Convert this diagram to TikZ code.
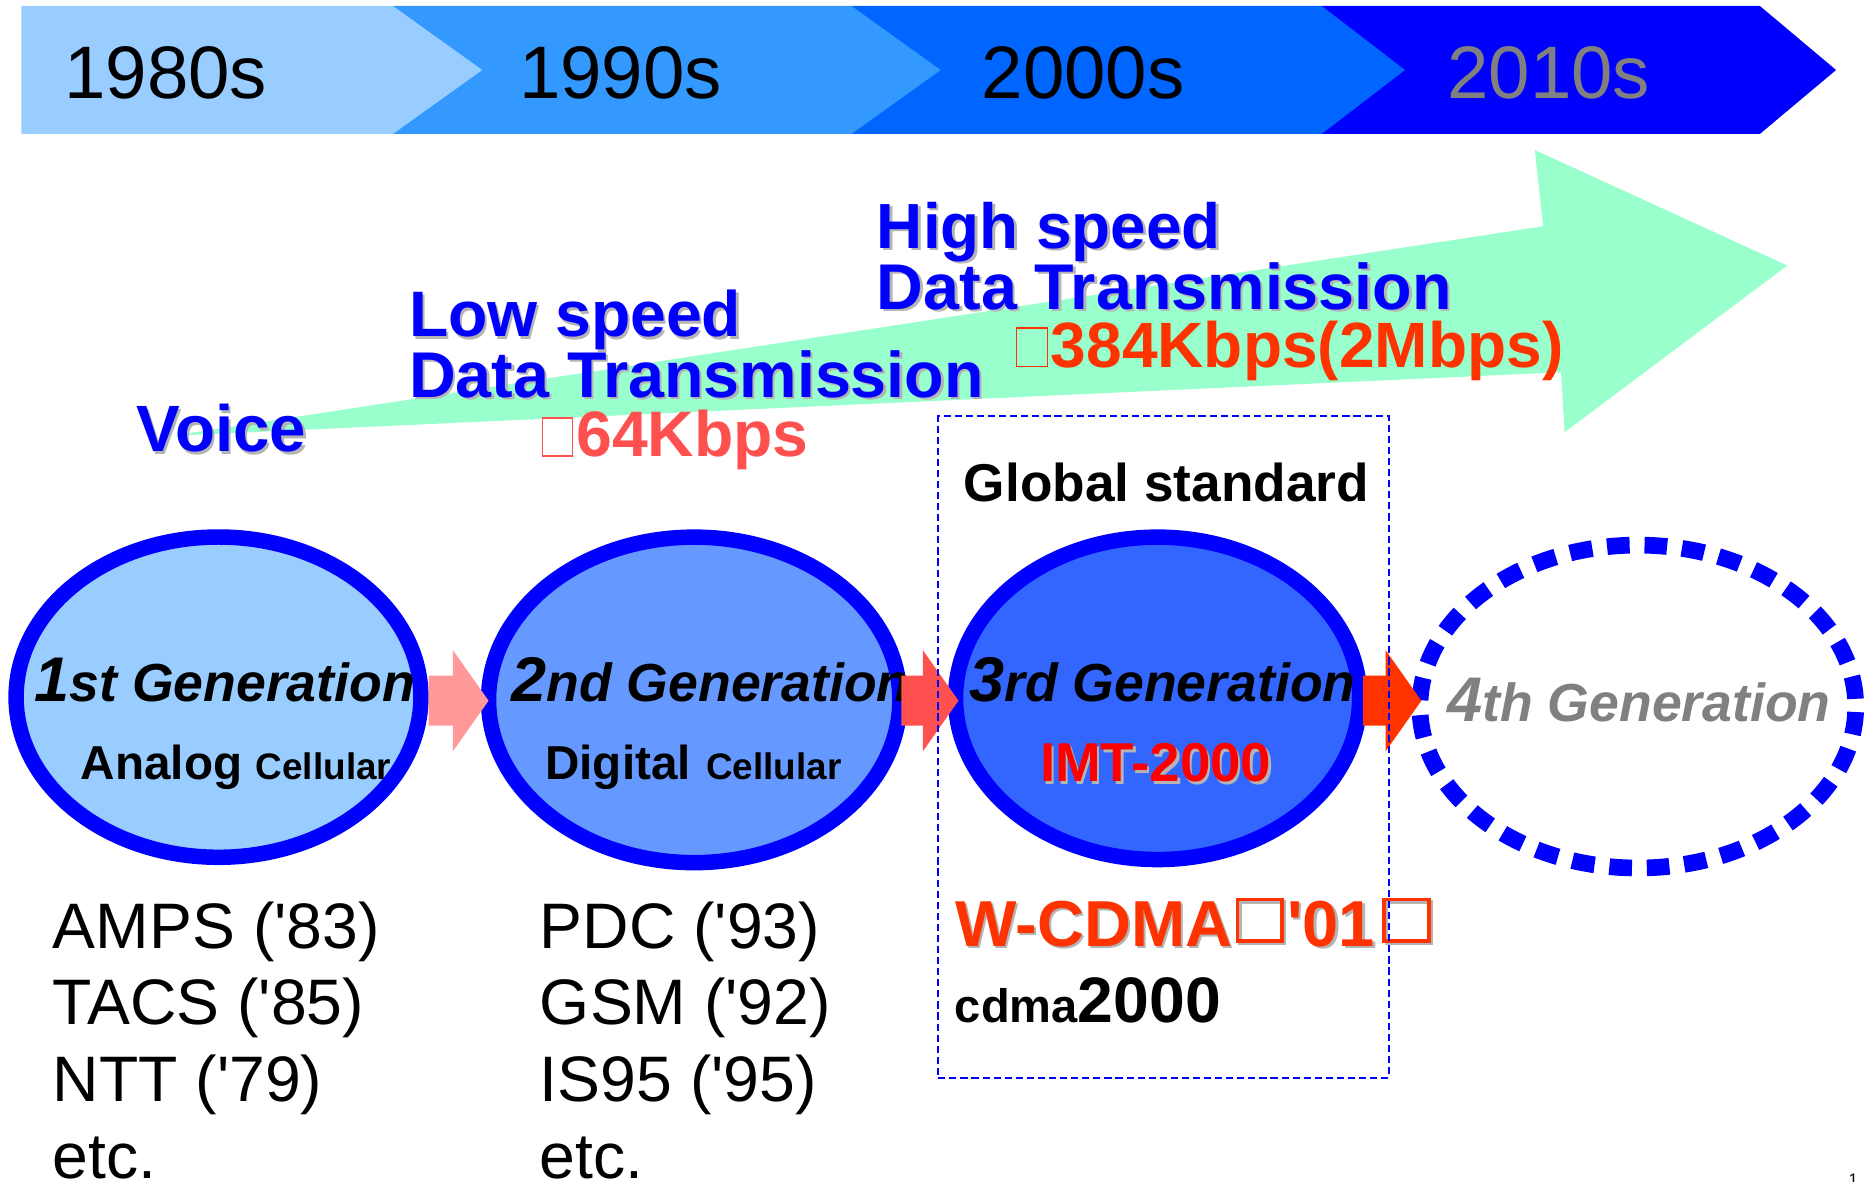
\documentclass[tikz,border=0pt]{standalone}
\usepackage{fontspec}
\setmainfont{Liberation Sans}[Ligatures=TeXOff]
\usetikzlibrary{calc,shapes.geometric}

% palette
\definecolor{decA}{HTML}{99CCFF}
\definecolor{decB}{HTML}{3399FF}
\definecolor{decC}{HTML}{0066FF}
\definecolor{decD}{HTML}{0000FF}
\definecolor{mint}{HTML}{99FFCC}
\definecolor{genA}{HTML}{99CCFF}
\definecolor{genB}{HTML}{6699FF}
\definecolor{genC}{HTML}{3366FF}
\definecolor{rim}{HTML}{0000FF}
\definecolor{stepA}{HTML}{FF9999}
\definecolor{stepB}{HTML}{FF5050}
\definecolor{stepC}{HTML}{FF3300}
\definecolor{shade}{HTML}{B4B4B4}
\definecolor{greytxt}{HTML}{808080}
\definecolor{rate}{HTML}{FF5050}
\definecolor{orng}{HTML}{FF3300}
\definecolor{imtred}{HTML}{FF0000}

\newcommand\fs[1]{\fontsize{#1}{#1}\selectfont}
% empty outlined glyph box: width, height, stroke
\newcommand\tofu[3]{\hbox{\vrule width #3\vbox to #2{\hrule height #3\vfil\hbox to \dimexpr #1-#3-#3\relax{}\hrule height #3}\vrule width #3}}
% text with a soft grey drop shadow: position, name, colour, font, text
\newcommand\shadowtext[5]{%
  \node[lbl, text=shade] (#2-sh) at ($#1+(2,2)$) {#4#5};
  \node[lbl, text=#3] (#2) at #1 {#4#5};}
% block arrow from a tail point to a tip point
\newcommand\blockarrow[3]{%
  \fill[#3] let \p1=#1, \p2=#2 in
    (\x1,\y2+21) -- (\x2-30,\y2+21) -- (\x2-30,\y2+42.5) -- (\x2,\y2)
    -- (\x2-30,\y2-42.5) -- (\x2-30,\y2-21) -- (\x1,\y2-21) -- cycle;}

\tikzset{
  lbl/.style={anchor=base west, inner sep=0pt, outer sep=0pt},
  gen/.style={ellipse, draw=rim, line width=13pt, inner sep=0pt, outer sep=0pt},
  genlabel/.style={lbl, font=\bfseries\itshape},
  sublabel/.style={lbl, font=\bfseries},
  listitem/.style={lbl, font=\fs{54}},
  decade/.style={lbl, font=\fs{62.5}},
}

\begin{document}
\begin{tikzpicture}[x=1pt, y=-1pt]
\useasboundingbox (0,0) rectangle (1568,992);
\fill[white] (0,0) rectangle (1568,992);

% decade banner
\fill[decD] (1110,5) -- (1478,5) -- (1542,58.8) -- (1478,112.5) -- (1110,112.5) -- cycle;
\fill[decC] (715,5) -- (1110,5) -- (1180,58.8) -- (1110,112.5) -- (715,112.5) -- cycle;
\fill[decB] (330,5) -- (715,5) -- (790,58.8) -- (715,112.5) -- (330,112.5) -- cycle;
\fill[decA] (18,5) -- (330,5) -- (405,58.8) -- (330,112.5) -- (18,112.5) -- cycle;
\node[decade] (d80) at (54,83) {1980s};
\node[decade] (d90) at (436,83) {1990s};
\node[decade] (d00) at (824.5,83) {2000s};
\node[decade, text=greytxt] (d10) at (1215.5,83) {2010s};

% widening trend arrow
\fill[mint] (145,366) -- (1296,190) -- (1289,126) -- (1501,223) -- (1314,363) -- (1311,312.6) -- cycle;

% service labels along the trend
\shadowtext{(114.5,379.3)}{voice}{rim}{\bfseries\fs{55}}{Voice}
\shadowtext{(343.5,282.8)}{low1}{rim}{\bfseries\fs{54}}{Low speed}
\shadowtext{(343.5,333.7)}{low2}{rim}{\bfseries\fs{54.3}}{Data Transmission}
\node[lbl, text=rate, font=\bfseries\fs{54}] (lowrate) at (455,383.5)
  {\tofu{26.5pt}{33pt}{1.3pt}\kern2.5pt 64Kbps};
\shadowtext{(736.5,208.6)}{high1}{rim}{\bfseries\fs{53.6}}{High speed}
\shadowtext{(736.5,259.8)}{high2}{rim}{\bfseries\fs{54.3}}{Data Transmission}
\node[lbl, text=orng, font=\bfseries\fs{53.8}] (highrate) at (853,308.5)
  {\tofu{27.5pt}{33.5pt}{1.3pt}\kern2pt 384Kbps(2Mbps)};

\node[lbl, font=\bfseries\fs{44.7}] (glob) at (809.5,421.3) {Global standard};

% generations
\node[gen, fill=genA, minimum width=340, minimum height=269] (g1) at (183.5,585.5) {};
\node[gen, fill=genB, minimum width=345.4, minimum height=273.4] (g2) at (583,587.8) {};
\node[gen, fill=genC, minimum width=339.4, minimum height=270.8] (g3) at (972.2,586.5) {};
\node[ellipse, draw=rim, line width=14pt, dash pattern=on 19pt off 12.5pt, dash phase=25pt,
      inner sep=0pt, outer sep=0pt, minimum width=366, minimum height=271.2] (g4) at (1375.5,593.4) {};

\node[genlabel] (g1t) at (29,589.3) {{\fs{53}1}{\fs{45}st Generation}};
\node[sublabel, font=\bfseries\fs{40}] (g1a) at (68,655) {Analog};
\node[sublabel, font=\bfseries\fs{31}] (g1b) at (214.8,655) {Cellular};

\node[genlabel] (g2t) at (429.5,589.3) {{\fs{53}2}{\fs{45}nd Generation}};
\node[sublabel, font=\bfseries\fs{40}] (g2a) at (458,655) {Digital};
\node[sublabel, font=\bfseries\fs{31}] (g2b) at (593,655) {Cellular};

\node[genlabel] (g3t) at (814,589.3) {{\fs{53}3}{\fs{45}rd Generation}};
\shadowtext{(873.5,656.5)}{imt}{imtred}{\bfseries\fs{46}}{IMT-2000}

\node[genlabel, text=greytxt] (g4t) at (1215.5,606) {{\fs{53}4}{\fs{45}th Generation}};

% evolution steps
\coordinate (row) at (0,588.5);
\blockarrow{($(g1.east)+(6.5,0)$)}{(g2.west |- row)}{stepA}
\blockarrow{($(g2.east)+(1.3,0)$)}{($(g3.west |- row)+(2.5,0)$)}{stepB}
\blockarrow{($(g3.east)+(3,0)$)}{($(g4.west |- row)+(1.2,0)$)}{stepC}

% systems per generation
\node[listitem] (s1a) at (44.5,796.5) {AMPS ('83)};
\node[listitem] (s1b) at (44.5,860.8) {TACS ('85)};
\node[listitem] (s1c) at (44.5,925.2) {NTT ('79)};
\node[listitem] (s1d) at (44.5,989.4) {etc.};
\node[listitem] (s2a) at (453.5,796.5) {PDC ('93)};
\node[listitem] (s2b) at (453.5,860.8) {GSM ('92)};
\node[listitem] (s2c) at (453.5,925.2) {IS95 ('95)};
\node[listitem] (s2d) at (453.5,989.4) {etc.};

\shadowtext{(802.5,795)}{wcdma}{orng}{\bfseries\fs{54.6}}%
  {W-CDMA\kern3pt\raise3pt\tofu{40.2pt}{38pt}{3pt}\kern3pt'01\kern6.2pt\raise3pt\tofu{40.6pt}{38pt}{3pt}}
\node[lbl, font=\bfseries] (cdma) at (802,858.6) {{\fs{39.5}cdma}{\fs{54}2000}};

% global-standard frame
\node[draw=rim, line width=1.6pt, dash pattern=on 6pt off 3.3pt, inner sep=0pt, outer sep=0pt,
      minimum width=378.5, minimum height=555.6] (stdframe) at (977.25,627.2) {};

\node[lbl, font=\fs{14}] (pg) at (1552.5,996) {1};
\end{tikzpicture}
\end{document}
